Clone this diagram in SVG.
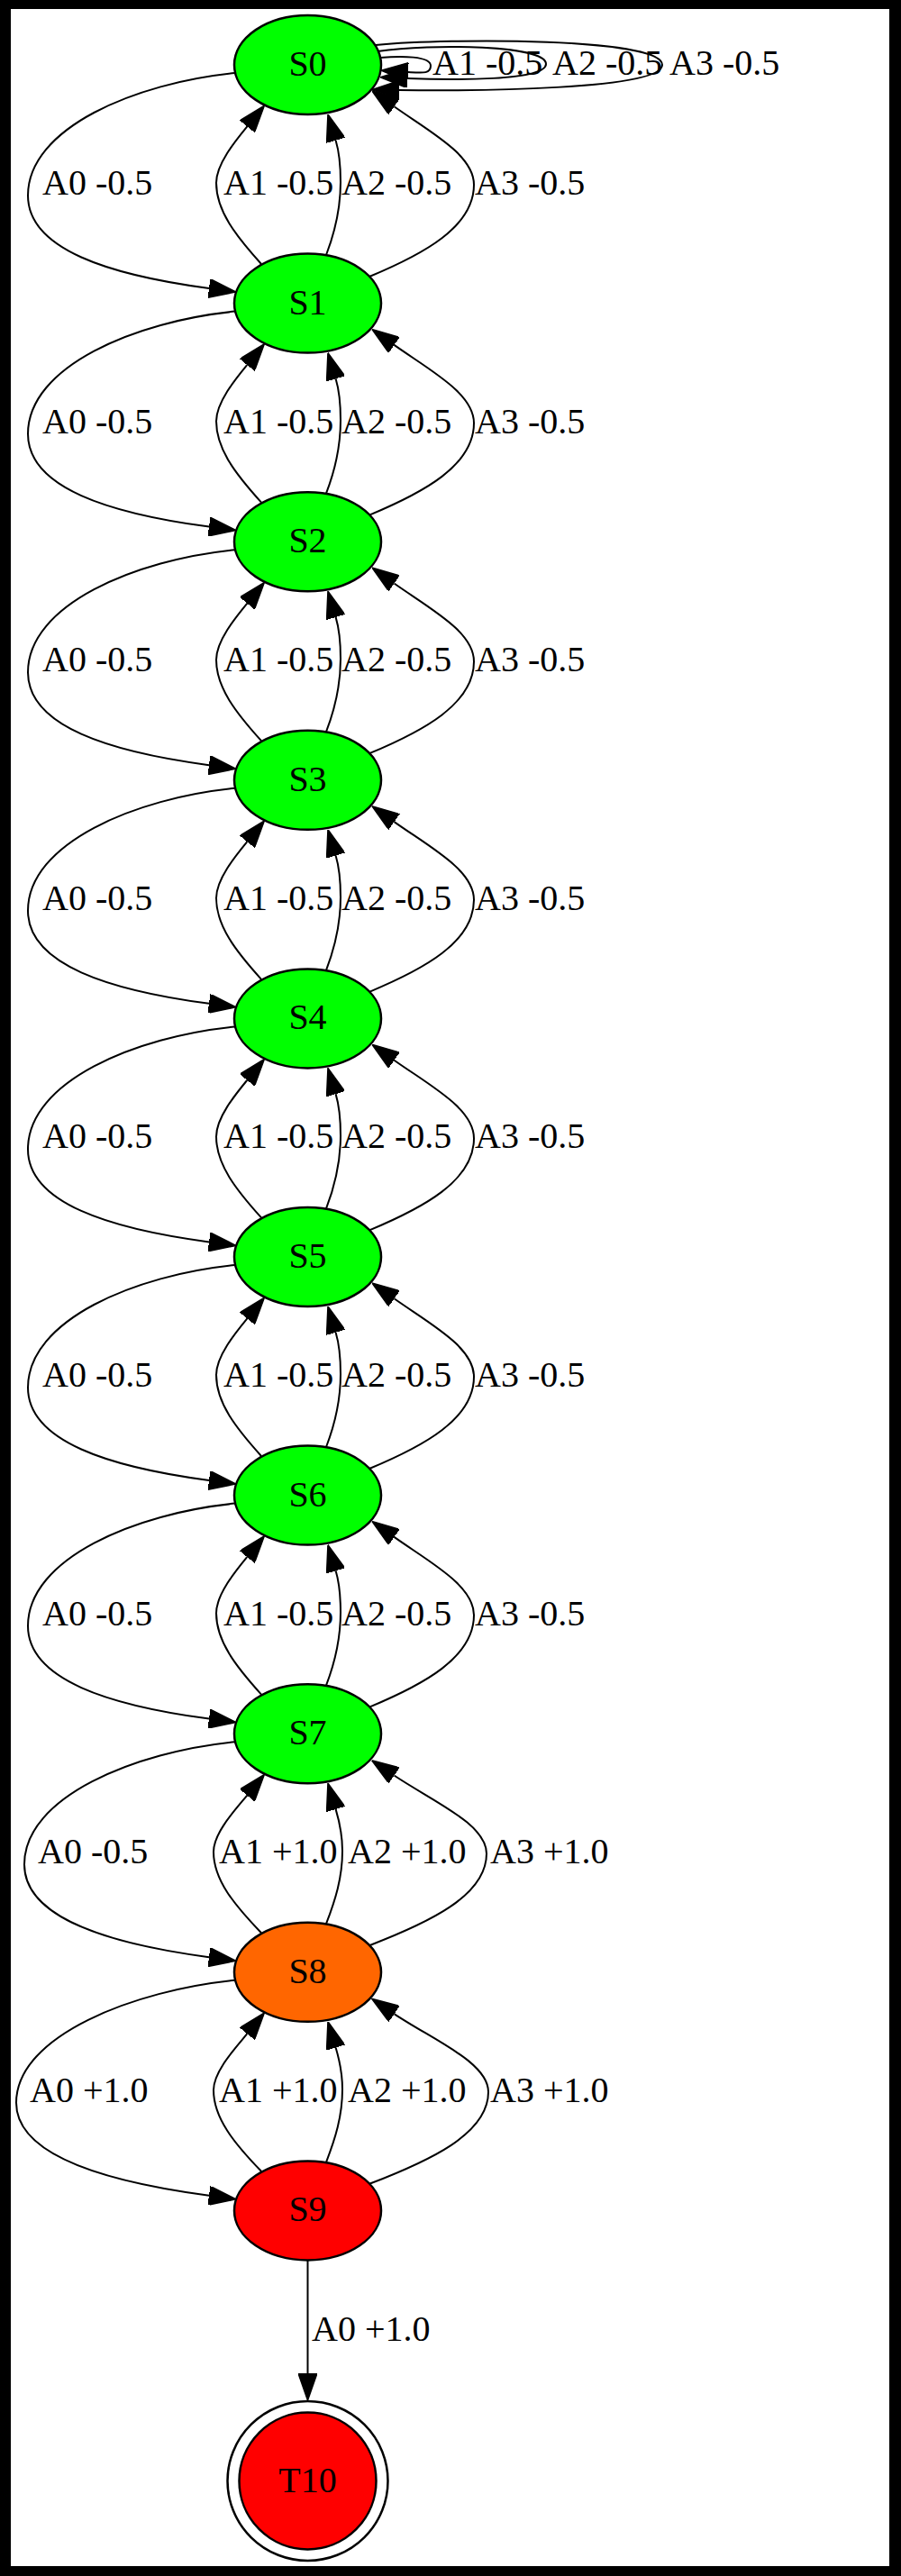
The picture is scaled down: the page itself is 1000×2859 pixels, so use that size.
<svg xmlns="http://www.w3.org/2000/svg" width="1000" height="2859" viewBox="0 0 1000 2859">
<defs>
<style>
.n{stroke:#000;stroke-width:2.5}
.g{fill:#00ff00}
.o{fill:#ff6600}
.r{fill:#ff0000}
.e{fill:none;stroke:#000;stroke-width:2;marker-end:url(#ah)}
text{font-family:"Liberation Serif","Times New Roman",serif;font-size:40px;fill:#000}
.c{text-anchor:middle}
</style>
<marker id="ah" viewBox="0 -3.5 10 7" refX="0" refY="0" markerWidth="30" markerHeight="21" markerUnits="userSpaceOnUse" orient="auto">
<path d="M0,-3.5 L10,0 L0,3.5 Z" fill="#000" stroke="#000" stroke-width="0.5"/>
</marker>
</defs>
<rect x="0" y="0" width="1000" height="2859" fill="#000"/>
<rect x="12" y="10" width="975" height="2838" fill="#fff"/>

<g id="connectors">
<!-- self loops on S0 -->
<g id="S0-loops">
<path class="e" d="M417,50 C500,42 735,42 735,72 C735,100 520,101 443,100"/>
<path class="e" d="M419,57 C480,48 606,50 606,71 C606,90 500,89 452,87"/>
<path class="e" d="M422,64 C445,62 478,62 478,73 C478,82 470,81 453,80"/>
<text x="480" y="83">A1 -0.5</text>
<text x="613" y="83">A2 -0.5</text>
<text x="743" y="83">A3 -0.5</text>
</g>
<g id="e01" transform="translate(0,72)">
<path class="e" d="M261,9 C150,20 31,70 31,145 C31,205 122,233.3 232,248"/>
<path class="e" d="M290,221 C262,190 240,162 240,131 C240,110 261.5,84 274.3,68.4"/>
<path class="e" d="M362,211 C372,185 378,160 378,130 C378,112 376.3,96 372.6,83.7"/>
<path class="e" d="M410,235 C470,210 526,180 526,133 C526,100 478,75 437.5,46.3"/>
<text x="47" y="144">A0 -0.5</text><text x="248" y="144">A1 -0.5</text><text x="379" y="144">A2 -0.5</text><text x="527" y="144">A3 -0.5</text>
</g>
<g id="e12" transform="translate(0,336.6)">
<path class="e" d="M261,9 C150,20 31,70 31,145 C31,205 122,233.3 232,248"/>
<path class="e" d="M290,221 C262,190 240,162 240,131 C240,110 261.5,84 274.3,68.4"/>
<path class="e" d="M362,211 C372,185 378,160 378,130 C378,112 376.3,96 372.6,83.7"/>
<path class="e" d="M410,235 C470,210 526,180 526,133 C526,100 478,75 437.5,46.3"/>
<text x="47" y="144">A0 -0.5</text><text x="248" y="144">A1 -0.5</text><text x="379" y="144">A2 -0.5</text><text x="527" y="144">A3 -0.5</text>
</g>
<g id="e23" transform="translate(0,601.2)">
<path class="e" d="M261,9 C150,20 31,70 31,145 C31,205 122,233.3 232,248"/>
<path class="e" d="M290,221 C262,190 240,162 240,131 C240,110 261.5,84 274.3,68.4"/>
<path class="e" d="M362,211 C372,185 378,160 378,130 C378,112 376.3,96 372.6,83.7"/>
<path class="e" d="M410,235 C470,210 526,180 526,133 C526,100 478,75 437.5,46.3"/>
<text x="47" y="144">A0 -0.5</text><text x="248" y="144">A1 -0.5</text><text x="379" y="144">A2 -0.5</text><text x="527" y="144">A3 -0.5</text>
</g>
<g id="e34" transform="translate(0,865.8)">
<path class="e" d="M261,9 C150,20 31,70 31,145 C31,205 122,233.3 232,248"/>
<path class="e" d="M290,221 C262,190 240,162 240,131 C240,110 261.5,84 274.3,68.4"/>
<path class="e" d="M362,211 C372,185 378,160 378,130 C378,112 376.3,96 372.6,83.7"/>
<path class="e" d="M410,235 C470,210 526,180 526,133 C526,100 478,75 437.5,46.3"/>
<text x="47" y="144">A0 -0.5</text><text x="248" y="144">A1 -0.5</text><text x="379" y="144">A2 -0.5</text><text x="527" y="144">A3 -0.5</text>
</g>
<g id="e45" transform="translate(0,1130.4)">
<path class="e" d="M261,9 C150,20 31,70 31,145 C31,205 122,233.3 232,248"/>
<path class="e" d="M290,221 C262,190 240,162 240,131 C240,110 261.5,84 274.3,68.4"/>
<path class="e" d="M362,211 C372,185 378,160 378,130 C378,112 376.3,96 372.6,83.7"/>
<path class="e" d="M410,235 C470,210 526,180 526,133 C526,100 478,75 437.5,46.3"/>
<text x="47" y="144">A0 -0.5</text><text x="248" y="144">A1 -0.5</text><text x="379" y="144">A2 -0.5</text><text x="527" y="144">A3 -0.5</text>
</g>
<g id="e56" transform="translate(0,1395)">
<path class="e" d="M261,9 C150,20 31,70 31,145 C31,205 122,233.3 232,248"/>
<path class="e" d="M290,221 C262,190 240,162 240,131 C240,110 261.5,84 274.3,68.4"/>
<path class="e" d="M362,211 C372,185 378,160 378,130 C378,112 376.3,96 372.6,83.7"/>
<path class="e" d="M410,235 C470,210 526,180 526,133 C526,100 478,75 437.5,46.3"/>
<text x="47" y="144">A0 -0.5</text><text x="248" y="144">A1 -0.5</text><text x="379" y="144">A2 -0.5</text><text x="527" y="144">A3 -0.5</text>
</g>
<g id="e67" transform="translate(0,1659.6)">
<path class="e" d="M261,9 C150,20 31,70 31,145 C31,205 122,233.3 232,248"/>
<path class="e" d="M290,221 C262,190 240,162 240,131 C240,110 261.5,84 274.3,68.4"/>
<path class="e" d="M362,211 C372,185 378,160 378,130 C378,112 376.3,96 372.6,83.7"/>
<path class="e" d="M410,235 C470,210 526,180 526,133 C526,100 478,75 437.5,46.3"/>
<text x="47" y="144">A0 -0.5</text><text x="248" y="144">A1 -0.5</text><text x="379" y="144">A2 -0.5</text><text x="527" y="144">A3 -0.5</text>
</g>
<g id="e78" transform="translate(0,1924.2)">
<path class="e" d="M261,9 C150,20 27,70 27,145 C27,205 122,233.3 232,248"/>
<path class="e" d="M290,221 C260,190 237,162 237,131 C237,110 261.5,84 274.3,68.4"/>
<path class="e" d="M362,211 C372,185 380,160 380,130 C380,112 376.3,96 372.6,83.7"/>
<path class="e" d="M410,235 C475,210 540,180 540,133 C540,100 480,75 437.5,46.3"/>
<text x="42" y="144">A0 -0.5</text><text x="243" y="144">A1 +1.0</text><text x="386" y="144">A2 +1.0</text><text x="544" y="144">A3 +1.0</text>
</g>
<g id="e89" transform="translate(0,2188.8)">
<path class="e" d="M261,9 C150,20 18,70 18,145 C18,205 122,233.3 232,248"/>
<path class="e" d="M290,221 C260,190 237,162 237,131 C237,110 261.5,84 274.3,68.4"/>
<path class="e" d="M362,211 C372,185 380,160 380,130 C380,112 376.3,96 372.6,83.7"/>
<path class="e" d="M410,235 C475,210 542,180 542,133 C542,100 480,75 437.5,46.3"/>
<text x="33" y="144">A0 +1.0</text><text x="243" y="144">A1 +1.0</text><text x="386" y="144">A2 +1.0</text><text x="544" y="144">A3 +1.0</text>
</g>
<g id="e9T">
<path class="e" d="M341.5,2508 L341.5,2634"/>
<text x="346" y="2598">A0 +1.0</text>
</g>
</g>

<g id="S0"><ellipse class="n g" cx="341.5" cy="72" rx="81.5" ry="55"/><text class="c" x="341.5" y="84">S0</text></g>
<g id="S1"><ellipse class="n g" cx="341.5" cy="336.6" rx="81.5" ry="55"/><text class="c" x="341.5" y="348.6">S1</text></g>
<g id="S2"><ellipse class="n g" cx="341.5" cy="601.2" rx="81.5" ry="55"/><text class="c" x="341.5" y="613.2">S2</text></g>
<g id="S3"><ellipse class="n g" cx="341.5" cy="865.8" rx="81.5" ry="55"/><text class="c" x="341.5" y="877.8">S3</text></g>
<g id="S4"><ellipse class="n g" cx="341.5" cy="1130.4" rx="81.5" ry="55"/><text class="c" x="341.5" y="1142.4">S4</text></g>
<g id="S5"><ellipse class="n g" cx="341.5" cy="1395" rx="81.5" ry="55"/><text class="c" x="341.5" y="1407">S5</text></g>
<g id="S6"><ellipse class="n g" cx="341.5" cy="1659.6" rx="81.5" ry="55"/><text class="c" x="341.5" y="1671.6">S6</text></g>
<g id="S7"><ellipse class="n g" cx="341.5" cy="1924.2" rx="81.5" ry="55"/><text class="c" x="341.5" y="1936.2">S7</text></g>
<g id="S8"><ellipse class="n o" cx="341.5" cy="2188.8" rx="81.5" ry="55"/><text class="c" x="341.5" y="2200.8">S8</text></g>
<g id="S9"><ellipse class="n r" cx="341.5" cy="2453.4" rx="81.5" ry="55"/><text class="c" x="341.5" y="2465.4">S9</text></g>
<g id="T10">
<ellipse cx="341.5" cy="2753.5" rx="89" ry="88.5" fill="none" stroke="#000" stroke-width="2.5"/>
<ellipse class="n r" cx="341.5" cy="2753.5" rx="76" ry="76"/>
<text class="c" x="341.5" y="2766">T10</text>
</g>
</svg>
